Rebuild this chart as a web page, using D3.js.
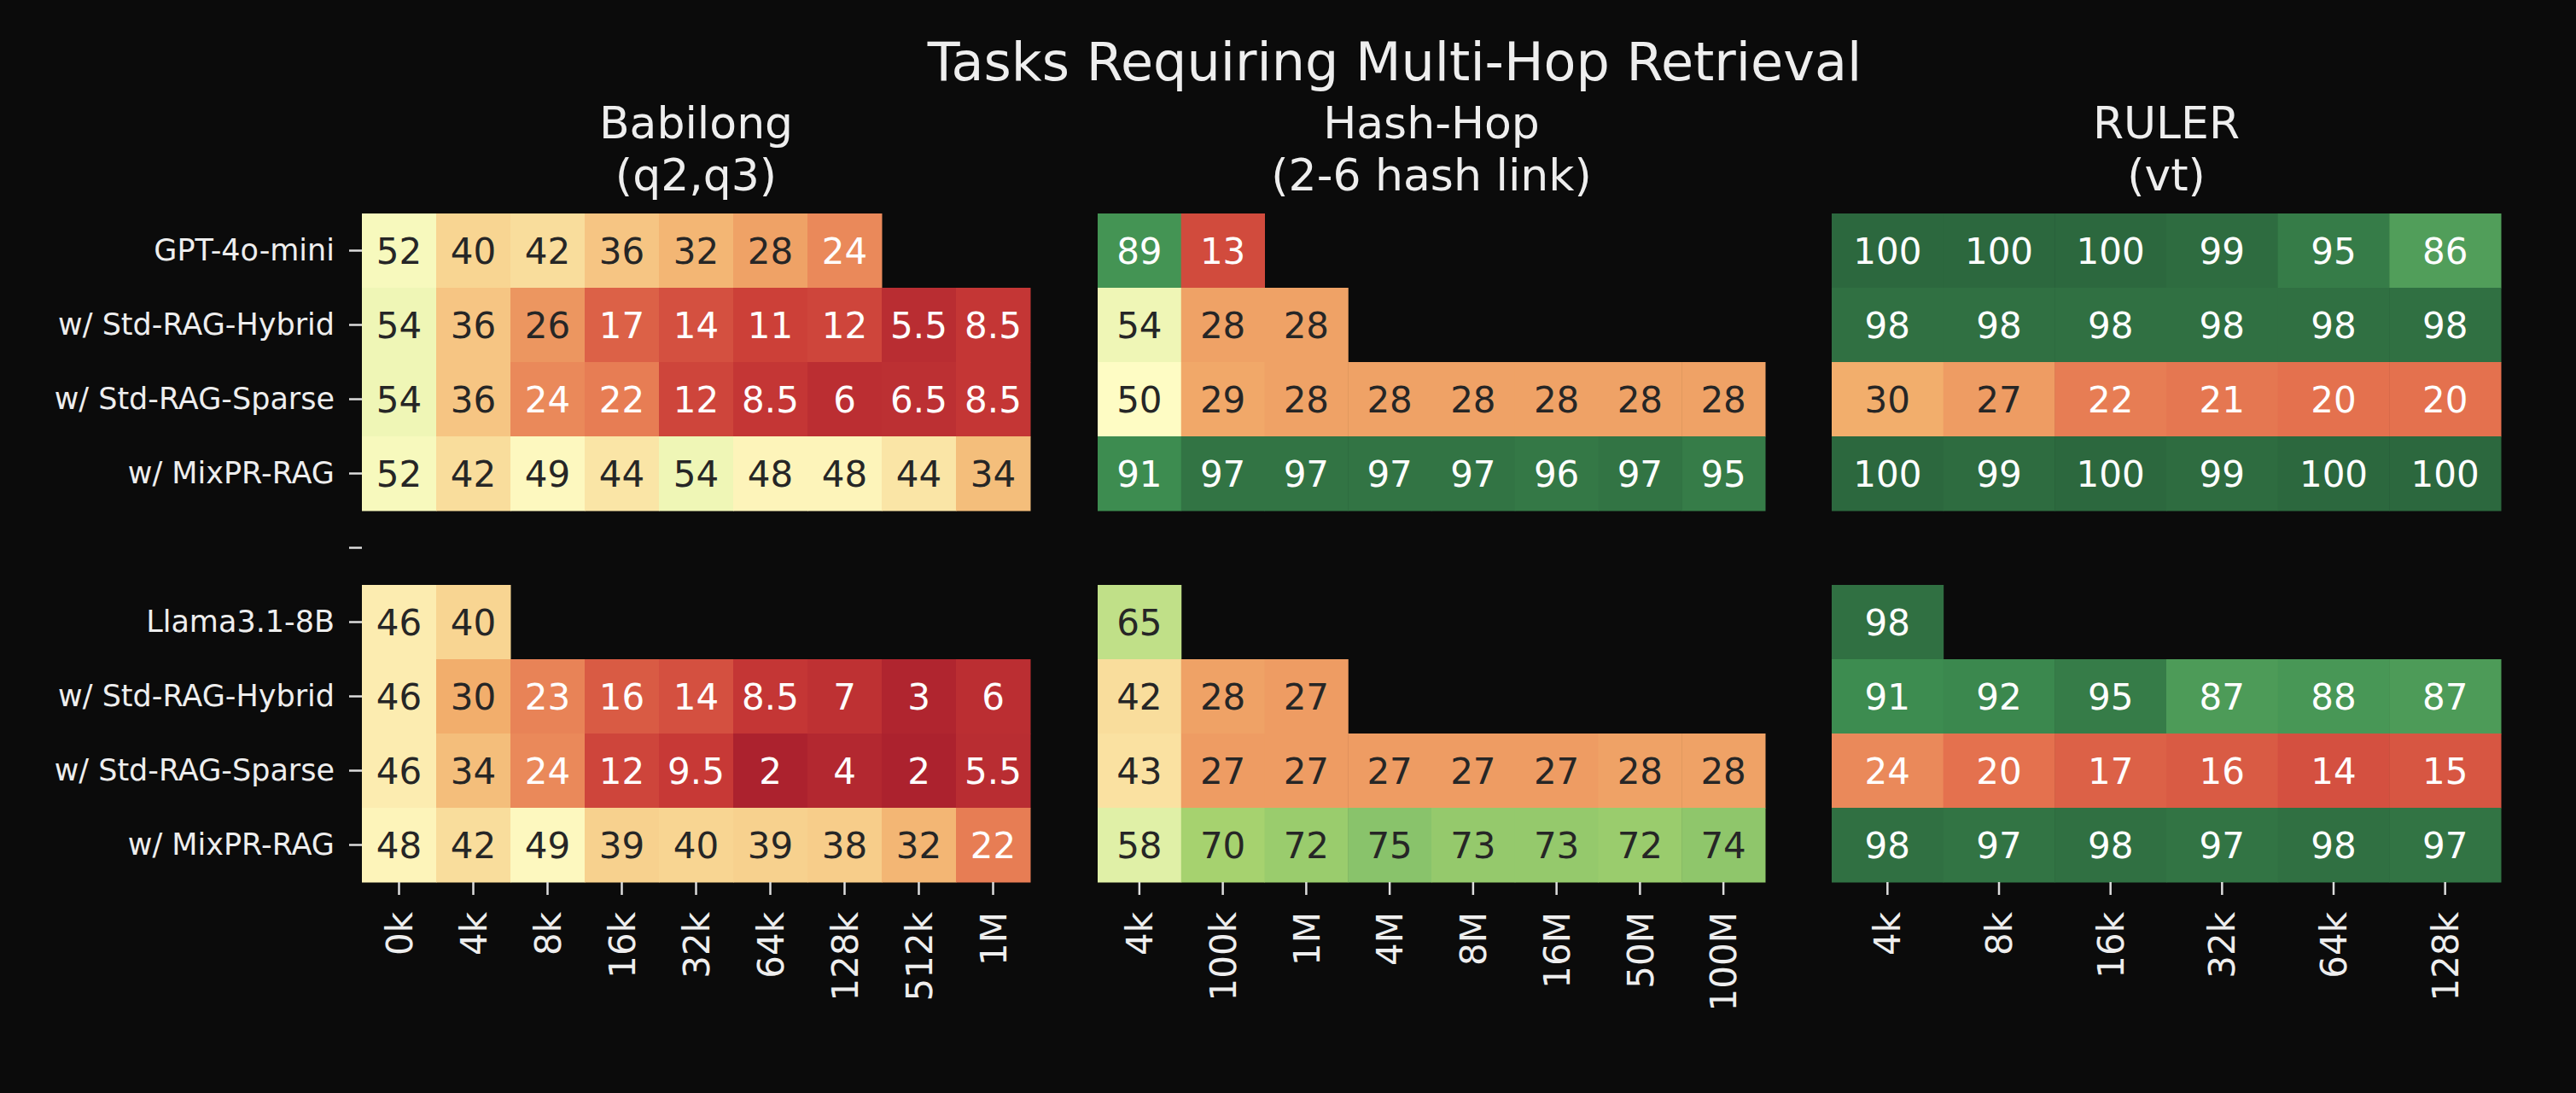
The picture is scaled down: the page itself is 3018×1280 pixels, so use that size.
<!DOCTYPE html>
<html>
<head>
<meta charset="utf-8">
<script src="https://cdn.jsdelivr.net/npm/d3@7"></script>
<style>
  html, body { margin: 0; padding: 0; background: #0b0b0b; }
  svg { display: block; font-family: "DejaVu Sans", sans-serif; }
</style>
</head>
<body>
<svg id="chart" width="3018" height="1280"></svg>
<script>
// row labels (blank row splits the two model groups)
const models = ["GPT-4o-mini", "w/ Std-RAG-Hybrid", "w/ Std-RAG-Sparse", "w/ MixPR-RAG", "",
                "Llama3.1-8B", "w/ Std-RAG-Hybrid", "w/ Std-RAG-Sparse", "w/ MixPR-RAG"];

const babilongLengths = ["0k", "4k", "8k", "16k", "32k", "64k", "128k", "512k", "1M"];
const babilongScores = [
  [52, 40, 42, 36, 32, 28, 24, null, null],
  [54, 36, 26, 17, 14, 11, 12, 5.5, 8.5],
  [54, 36, 24, 22, 12, 8.5, 6, 6.5, 8.5],
  [52, 42, 49, 44, 54, 48, 48, 44, 34],
  [null, null, null, null, null, null, null, null, null],
  [46, 40, null, null, null, null, null, null, null],
  [46, 30, 23, 16, 14, 8.5, 7, 3, 6],
  [46, 34, 24, 12, 9.5, 2, 4, 2, 5.5],
  [48, 42, 49, 39, 40, 39, 38, 32, 22]
];

const hashHopLengths = ["4k", "100k", "1M", "4M", "8M", "16M", "50M", "100M"];
const hashHopScores = [
  [89, 13, null, null, null, null, null, null],
  [54, 28, 28, null, null, null, null, null],
  [50, 29, 28, 28, 28, 28, 28, 28],
  [91, 97, 97, 97, 97, 96, 97, 95],
  [null, null, null, null, null, null, null, null],
  [65, null, null, null, null, null, null, null],
  [42, 28, 27, null, null, null, null, null],
  [43, 27, 27, 27, 27, 27, 28, 28],
  [58, 70, 72, 75, 73, 73, 72, 74]
];

const rulerLengths = ["4k", "8k", "16k", "32k", "64k", "128k"];
const rulerScores = [
  [100, 100, 100, 99, 95, 86],
  [98, 98, 98, 98, 98, 98],
  [30, 27, 22, 21, 20, 20],
  [100, 99, 100, 99, 100, 100],
  [null, null, null, null, null, null],
  [98, null, null, null, null, null],
  [91, 92, 95, 87, 88, 87],
  [24, 20, 17, 16, 14, 15],
  [98, 97, 98, 97, 98, 97]
];

const panels = [
  {title: ["Babilong", "(q2,q3)"], cols: babilongLengths, scores: babilongScores, x0: 424, x1: 1207, yLabels: true},
  {title: ["Hash-Hop", "(2-6 hash link)"], cols: hashHopLengths, scores: hashHopScores, x0: 1286, x1: 2068, yLabels: false},
  {title: ["RULER", "(vt)"], cols: rulerLengths, scores: rulerScores, x0: 2146, x1: 2930, yLabels: false}
];

const gridTop = 250, gridBottom = 1033;
const textColor = "#eeeeee";

// RdYlGn-like ramp, a bit muted like the original render
const color = d3.scaleLinear()
  .domain(d3.range(0, 101, 10))
  .range(["#a51c2c", "#c93a36", "#e4714e", "#f2ae6c", "#f8d592", "#fefcc4",
          "#d9eda0", "#a6d26f", "#6cb466", "#3f9052", "#2c683e"])
  .interpolate(d3.interpolateRgb);

const svg = d3.select("#chart");

svg.append("text")
  .attr("x", 1634)
  .attr("y", 94)
  .attr("text-anchor", "middle")
  .attr("fill", textColor)
  .style("font-size", "62px")
  .text("Tasks Requiring Multi-Hop Retrieval");

const y = d3.scaleBand()
  .domain(d3.range(models.length))
  .range([gridTop, gridBottom]);

panels.forEach(p => {
  const x = d3.scaleBand()
    .domain(d3.range(p.cols.length))
    .range([p.x0, p.x1]);

  const g = svg.append("g");

  // panel title, two lines
  g.append("text")
    .attr("x", (p.x0 + p.x1) / 2)
    .attr("y", 162)
    .attr("text-anchor", "middle")
    .attr("fill", textColor)
    .style("font-size", "52px")
    .selectAll("tspan")
    .data(p.title)
    .join("tspan")
    .attr("x", (p.x0 + p.x1) / 2)
    .attr("dy", (d, i) => i === 0 ? 0 : 61)
    .text(d => d);

  const cells = [];
  p.scores.forEach((row, r) => row.forEach((v, c) => {
    if (v !== null) cells.push({r, c, v});
  }));

  g.selectAll(".cell")
    .data(cells)
    .join("rect")
    .attr("class", "cell")
    .attr("x", d => x(d.c))
    .attr("y", d => y(d.r))
    .attr("width", x.bandwidth() + 0.5)
    .attr("height", y.bandwidth() + 0.5)
    .attr("fill", d => color(d.v));

  g.selectAll(".annot")
    .data(cells)
    .join("text")
    .attr("class", "annot")
    .attr("x", d => x(d.c) + x.bandwidth() / 2)
    .attr("y", d => y(d.r) + y.bandwidth() / 2)
    .attr("dy", "0.36em")
    .attr("text-anchor", "middle")
    .attr("fill", d => (d.v < 25 || d.v > 80) ? "#ffffff" : "#262626")
    .style("font-size", "42px")
    .text(d => d.v);

  // x axis, labels turned upright
  const xAxis = d3.axisBottom(x)
    .tickSize(15)
    .tickFormat(i => p.cols[i]);

  const xg = g.append("g")
    .attr("transform", `translate(0,${gridBottom})`)
    .call(xAxis);
  xg.select(".domain").remove();
  xg.selectAll(".tick line").attr("stroke", "#dddddd").attr("stroke-width", 2.5);
  xg.selectAll(".tick text")
    .attr("fill", textColor)
    .attr("font-family", "DejaVu Sans")
    .style("font-size", "42px")
    .attr("text-anchor", "end")
    .attr("transform", "rotate(-90)")
    .attr("x", -35)
    .attr("y", 0)
    .attr("dy", "0.36em");

  if (p.yLabels) {
    const yAxis = d3.axisLeft(y)
      .tickSize(15)
      .tickPadding(17)
      .tickFormat(i => models[i]);

    const yg = g.append("g")
      .attr("transform", `translate(${p.x0},0)`)
      .call(yAxis);
    yg.select(".domain").remove();
    yg.selectAll(".tick line").attr("stroke", "#dddddd").attr("stroke-width", 2.5);
    yg.selectAll(".tick text")
      .attr("fill", textColor)
      .attr("font-family", "DejaVu Sans")
      .style("font-size", "35px");
  }
});
</script>
</body>
</html>
